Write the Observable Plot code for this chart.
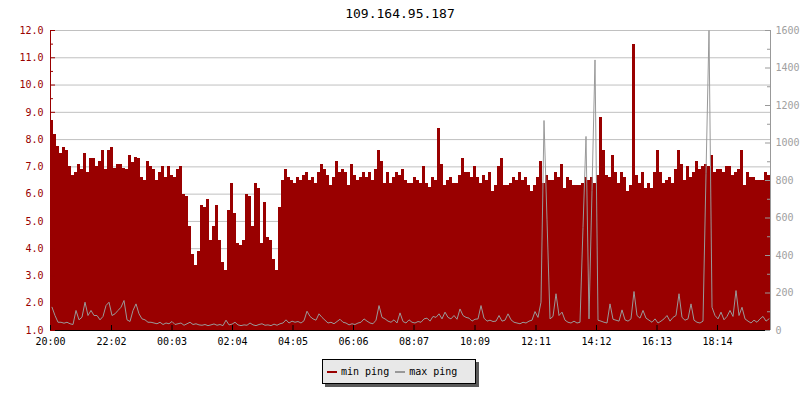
<!DOCTYPE html>
<html><head><meta charset="utf-8">
<script src="https://cdn.jsdelivr.net/npm/d3@7"></script>
<script src="https://cdn.jsdelivr.net/npm/@observablehq/plot@0.6"></script>
<style>
body{margin:0;background:#fff;}
#wrap{position:relative;width:800px;height:400px;font-family:"DejaVu Sans Mono",monospace;}
#title{position:absolute;left:0;top:6px;width:800px;text-align:center;font-size:13px;line-height:15px;color:#000;}
#legend{position:absolute;left:322px;top:359px;width:154px;height:25px;box-sizing:border-box;background:#e8e8e8;border:1px solid #000;box-shadow:3px 3px 0 #5a5a5a;font-size:10px;display:flex;align-items:center;color:#000;}
#legend .sw{display:inline-block;width:10px;height:2px;margin-right:4px;}
</style></head>
<body><div id="wrap"><div id="title"></div><div id="legend"></div></div>
<script>
const title = "109.164.95.187";
const seriesNames = ["min ping", "max ping"];
const seriesColors = ["#990000", "#999999"];
const startLabel = "20:00";
const stepMinutes = 6;
const timeTicks = ["20:00","22:02","00:03","02:04","04:05","06:06","08:07","10:09","12:11","14:12","16:13","18:14"];
const leftTicks = [1,2,3,4,5,6,7,8,9,10,11,12];
const rightTicks = [0,200,400,600,800,1000,1200,1400,1600];

const minPing = [
8.7,8.2,7.75,7.5,7.7,7.6,7.0,6.7,6.8,7.1,6.9,7.5,6.8,7.3,7.3,7.0,7.2,7.6,6.9,7.6,
7.7,6.95,7.1,7.1,6.95,6.9,7.4,7.15,7.35,7.3,6.6,6.5,7.2,7.0,6.9,6.5,6.8,7.0,6.6,7.0,
6.7,6.6,6.9,7.0,6.0,5.9,4.8,3.8,3.4,3.9,5.6,5.5,5.8,4.3,4.8,5.6,4.3,3.5,3.2,5.4,
6.4,5.3,4.2,4.1,4.3,6.0,5.9,4.8,6.4,6.2,4.2,5.7,4.4,4.3,3.6,3.2,5.5,6.5,6.9,6.6,
6.5,6.4,6.6,6.5,6.7,6.8,6.5,6.6,6.4,6.8,7.1,6.9,6.7,6.3,6.6,7.2,6.8,6.9,6.8,6.3,
7.1,6.7,6.5,6.6,6.8,6.6,6.8,6.5,6.9,7.6,7.2,6.4,6.8,6.4,6.6,6.8,6.7,6.9,6.5,6.4,
6.4,6.6,6.5,6.4,7.0,6.4,6.25,6.6,6.5,8.4,7.1,6.3,6.5,6.6,6.4,6.4,6.7,7.3,6.8,6.8,
6.6,7.0,6.6,6.4,6.7,6.5,6.8,6.1,6.3,7.0,7.3,6.3,6.3,6.4,6.6,6.5,6.8,6.5,6.6,6.3,
6.1,6.3,6.6,7.2,6.4,6.7,6.5,6.5,6.8,6.6,7.1,6.2,6.6,6.5,6.3,6.3,6.3,6.4,6.6,6.5,
6.6,6.4,6.7,8.8,7.6,6.7,6.6,7.4,6.8,6.4,6.8,6.6,6.1,6.3,11.5,6.7,6.4,6.8,6.2,6.4,
6.2,6.8,7.6,6.8,6.4,6.5,6.6,6.4,6.9,7.6,7.1,6.5,7.0,6.6,6.8,7.2,6.9,7.0,7.1,7.0,
7.4,6.8,6.9,6.9,6.8,7.0,7.0,6.7,6.8,6.9,7.6,6.3,6.8,6.6,6.6,6.5,6.5,6.5,6.8,6.7
];
const maxPing = [
124,80,44,44,39,44,36,32,107,57,71,151,80,107,80,80,57,75,133,151,
80,89,107,124,160,57,48,107,142,89,62,57,44,44,40,36,44,32,40,36,
48,32,36,40,28,36,44,32,36,30,28,32,26,30,35,28,32,26,55,30,
34,44,30,26,30,28,40,30,26,32,36,28,30,26,34,28,36,40,57,40,
50,44,48,40,52,103,75,62,55,89,70,55,40,44,36,48,60,44,40,30,
36,32,40,44,62,50,40,36,55,133,70,62,50,44,57,40,94,48,40,57,
44,40,48,44,62,66,50,75,70,89,62,98,70,62,80,60,115,80,70,66,
50,60,62,133,66,50,55,48,50,80,50,55,89,57,44,40,36,44,40,50,
55,101,70,151,1120,590,62,75,196,80,98,55,44,40,50,40,44,550,1035,62,
747,1443,55,50,44,40,142,60,55,50,110,57,50,62,208,80,66,107,66,55,
44,62,40,50,62,80,50,70,80,196,70,55,62,142,55,44,40,50,836,1600,
124,80,62,98,57,75,107,75,213,80,124,62,50,40,55,44,62,75,50,62
];

const totalMinutes = 1440;
const rightMax = rightTicks[rightTicks.length - 1];
const yMin = leftTicks[0], yMax = leftTicks[leftTicks.length - 1];
const toLeft = v => yMin + v * (yMax - yMin) / rightMax;
const fromLeft = y => (y - yMin) * rightMax / (yMax - yMin);

const [h0, m0] = startLabel.split(":").map(Number);
const tickMin = timeTicks.map(s => {
  const [h, m] = s.split(":").map(Number);
  return ((h * 60 + m) - (h0 * 60 + m0) + 1440) % 1440;
});

const rows = minPing.map((v, i) => ({t: i * stepMinutes, min: v, max: maxPing[i]}));

const W = 800, H = 400, mL = 50, mR = 30, mT = 30, mB = 70;
const plotW = W - mL - mR, plotH = H - mT - mB;
const leftMinor = leftTicks.slice(0, -1).map(v => v + 0.5);
const rightMajor = rightTicks.map(toLeft);
const rightMinor = rightTicks.slice(0, -1).map(v => toLeft(v + (rightTicks[1] - rightTicks[0]) / 2));

const chart = Plot.plot({
  width: W, height: H,
  marginLeft: mL, marginRight: mR, marginTop: mT, marginBottom: mB,
  style: {fontFamily: "'DejaVu Sans Mono', monospace", fontSize: "10px", background: "transparent", overflow: "visible"},
  x: {domain: [0, totalMinutes], axis: null},
  y: {domain: [yMin, yMax], axis: null},
  marks: [
    Plot.ruleY(leftTicks, {stroke: "#c0c0c0", strokeWidth: 1}),
    Plot.rect(rows, {x1: "t", x2: d => d.t + stepMinutes, y1: () => yMin, y2: "min", fill: seriesColors[0], shapeRendering: "crispEdges"}),
    Plot.line(rows, {x: d => d.t + stepMinutes / 2, y: d => toLeft(d.max), stroke: seriesColors[1], strokeWidth: 1, curve: "linear"}),
    // axis lines
    Plot.ruleX([0], {stroke: "#990000"}),
    Plot.ruleX([totalMinutes], {stroke: "#999999"}),
    Plot.ruleY([yMin], {stroke: "#000"}),
    // left ticks (inward)
    Plot.ruleY(leftTicks, {stroke: "#990000", insetRight: plotW - 5}),
    Plot.ruleY(leftMinor, {stroke: "#990000", insetRight: plotW - 3}),
    // right ticks (inward)
    Plot.ruleY(rightMajor, {stroke: "#999999", insetLeft: plotW - 5}),
    Plot.ruleY(rightMinor, {stroke: "#999999", insetLeft: plotW - 3}),
    // x ticks (inward)
    Plot.ruleX(tickMin, {stroke: "#000", insetTop: plotH - 5}),
    Plot.axisY(leftTicks, {anchor: "left", tickSize: 0, tickPadding: 7, tickFormat: d3.format(".1f"), color: "#990000", fontSize: 10, label: null}),
    Plot.axisY(rightMajor, {anchor: "right", tickSize: 0, tickPadding: 5, tickFormat: d => String(Math.round(fromLeft(d))), color: "#a0a0a0", fontSize: 10, label: null}),
    Plot.axisX(tickMin, {anchor: "bottom", tickSize: 0, tickPadding: 7, tickFormat: d => timeTicks[tickMin.indexOf(d)], color: "#000", fontSize: 10, label: null})
  ]
});

const wrap = document.getElementById("wrap");
wrap.insertBefore(chart, wrap.firstChild);
chart.style.position = "absolute";
chart.style.left = "0px";
chart.style.top = "0px";
document.getElementById("title").textContent = title;
const legend = document.getElementById("legend");
seriesNames.forEach((name, i) => {
  const sw = document.createElement("span");
  sw.className = "sw";
  sw.style.background = seriesColors[i];
  sw.style.marginLeft = i === 0 ? "4px" : "6px";
  legend.appendChild(sw);
  const tx = document.createElement("span");
  tx.textContent = name;
  legend.appendChild(tx);
});
</script>
</body></html>
